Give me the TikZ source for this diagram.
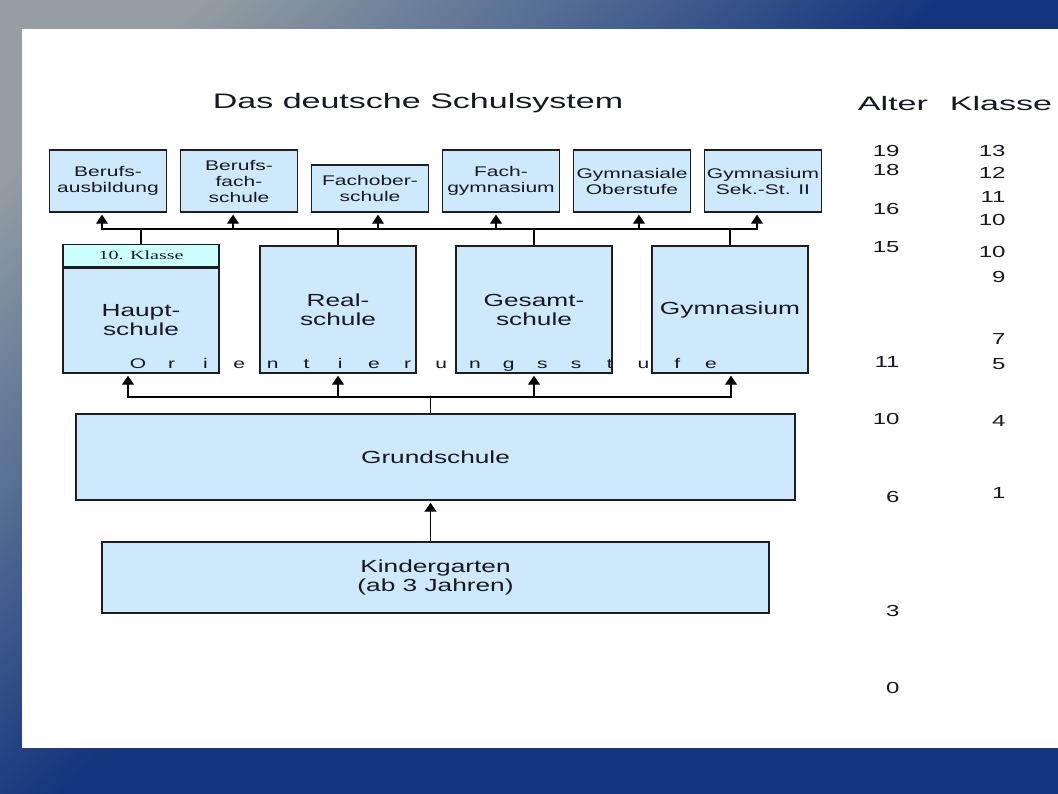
\documentclass[tikz,border=0pt]{standalone}
\usepackage{fontspec}
\setmainfont{Liberation Sans}
\newfontfamily\breit[FakeStretch=1.5]{Liberation Sans}
\newfontfamily\titelschrift[FakeStretch=1.62]{Liberation Sans}
\newfontfamily\kopfschrift[FakeStretch=1.75]{Liberation Sans}
\newfontfamily\serifbreit[FakeStretch=1.6]{Liberation Serif}
\usepackage{xcolor}
\usetikzlibrary{arrows.meta, positioning, calc}

\definecolor{kastenblau}{RGB}{206,233,252}
\definecolor{streifentuerkis}{RGB}{204,255,255}
\definecolor{randgrau}{RGB}{30,30,30}
\definecolor{schrift}{RGB}{22,24,36}
\definecolor{hgA}{RGB}{148,158,163}
\definecolor{hgB}{RGB}{85,110,148}
\definecolor{hgC}{RGB}{20,52,125}

\pgfdeclarehorizontalshading{hgverlauf}{100bp}{color(0bp)=(hgA); color(22bp)=(hgA); color(35bp)=(hgB); color(49bp)=(hgC); color(100bp)=(hgC)}

\tikzset{
    kasten/.style={draw=randgrau, line width=1.4pt, fill=kastenblau, inner sep=0pt, align=center, text=schrift},
    gross/.style={font=\breit\fontsize{17.5}{19}\selectfont},
    klein/.style={font=\breit\fontsize{14}{16}\selectfont},
    oben/.style={kasten, klein, minimum width=117pt, minimum height=62pt},
    mitte/.style={kasten, gross, minimum width=156pt, minimum height=127pt},
    streifen/.style={draw=randgrau, line width=1.4pt, fill=streifentuerkis, inner sep=0pt, minimum width=156pt, minimum height=22pt, text=schrift, font=\serifbreit\fontsize{12.5}{14}\selectfont},
    pfeil/.style={-{Triangle[width=12pt,length=9pt]}, line width=1.2pt, shorten >=2pt},
    linie/.style={line width=1.2pt},
    zahl/.style={anchor=east, text=schrift, font=\breit\fontsize{16}{18}\selectfont},
    buchst/.style={anchor=base, text=schrift, font=\breit\fontsize{14}{16}\selectfont, inner sep=0pt},
}

\begin{document}
\begin{tikzpicture}[x=1pt, y=-1pt]
                    \useasboundingbox (0,0) rectangle (1058,793);
                    \shade[shading=hgverlauf, shading angle=-48] (0,0) rectangle (1058,793);
                    \fill[white] (22,29) rectangle (1058,748);

                    \node[text=schrift, font=\titelschrift\fontsize{21}{25}\selectfont] (titel) at (418,103) {Das deutsche Schulsystem};
                    \node[text=schrift, font=\kopfschrift\fontsize{19.5}{22}\selectfont] (alter) at (893,104) {Alter};
                    \node[text=schrift, font=\kopfschrift\fontsize{19.5}{22}\selectfont] (klasse) at (1001,104) {Klasse};

                    \node[oben] (ba) at (108,181) {Berufs-\\ausbildung};
                    \node[oben] (bfs) at (239,181) {Berufs-\\fach-\\schule};
                    \node[oben, minimum height=47pt] (fos) at (370,188.5) {Fachober-\\schule};
                    \node[oben] (fg) at (501,181) {Fach-\\gymnasium};
                    \node[oben] (go) at (632,181) {Gymnasiale\\Oberstufe};
                    \node[oben] (gss) at (763,181) {Gymnasium\\Sek.-St. II};

                    \node[mitte, minimum height=105pt] (hs) at (141,320.5) {Haupt-\\schule};
                    \node[streifen, anchor=south] (kl) at (hs.north) {10. Klasse};
                    \draw[line width=2.6pt, draw=randgrau] (kl.south west) to (kl.south east);
                    \node[mitte] (rs) at (338,309.5) {Real-\\schule};
                    \node[mitte] (gsch) at (534,309.5) {Gesamt-\\schule};
                    \node[mitte] (gym) at (730,309.5) {Gymnasium};

                    \foreach \b [count=\i] in {O,r,i,e,n,t,i,e,r,u,n,g,s,s,t,u,f,e}
                        \node[buchst] (o\i) at ({138+(\i-1)*33.7},368) {\b};

                    \node[kasten, gross, minimum width=719pt, minimum height=86pt] (gs) at (435.5,457) {Grundschule};
                    \node[kasten, gross, minimum width=667pt, minimum height=71pt] (kg) at (435.5,577.5) {Kindergarten\\(ab 3 Jahren)};

                    \coordinate (busO) at (102,229);
                    \coordinate (busOr) at (757,229);
                    \coordinate (busU) at (128,397);
                    \coordinate (busUr) at (731,397);

                    \draw[linie] (busO) to (busOr);
                    \foreach \k in {kl, rs, gsch, gym}
                        \draw[linie] (\k.north) to (\k.north |- busO);
                    \foreach \k/\dx in {ba/-6, bfs/-6, fos/8, fg/-5, go/7, gss/-6}
                        \draw[pfeil] ($(\k.south)+(\dx,17)$) to ($(\k.south)+(\dx,0)$);

                    \draw[linie] (busU) to (busUr);
                    \draw[linie] ($(gs.north)+(-5,0)$) to ($(gs.north)+(-5,-17)$);
                    \foreach \k/\dx in {hs/-13, rs/0, gsch/0, gym/1}
                        \draw[pfeil] ($(\k.south)+(\dx,24)$) to ($(\k.south)+(\dx,0)$);

                    \draw[pfeil] ($(kg.north)+(-5,0)$) to ($(gs.south)+(-5,0)$);

                    \foreach \z/\y [count=\i] in {19/151, 18/170, 16/209, 15/247, 11/362, 10/419, 6/497, 3/611, 0/688}
                        \node[zahl] (a\i) at (903,\y) {\z};
                    \foreach \z/\y [count=\i] in {13/151, 12/173, 11/197, 10/220, 10/252, 9/277, 7/339, 5/364, 4/421, 1/493}
                        \node[zahl] (k\i) at (1009,\y) {\z};
                \end{tikzpicture}
\end{document}
